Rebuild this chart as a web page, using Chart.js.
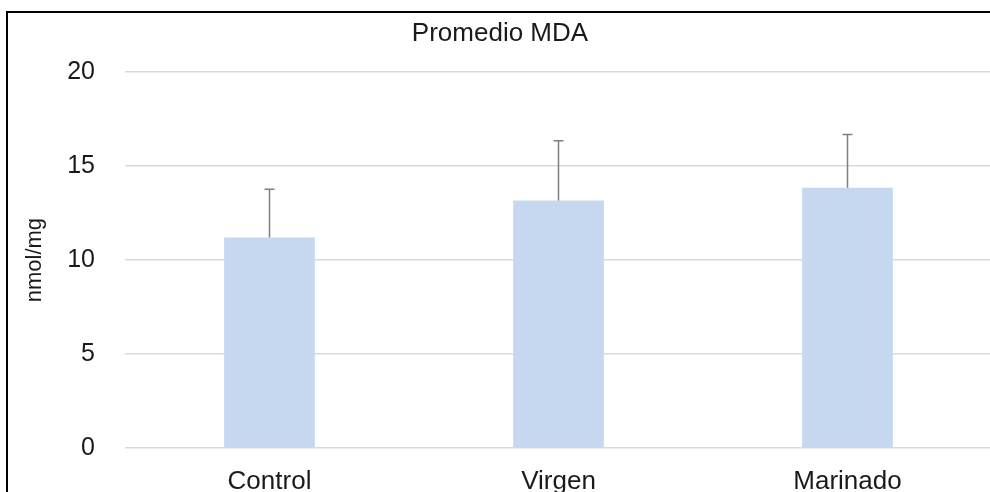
<!DOCTYPE html>
<html>
<head>
<meta charset="utf-8">
<script src="https://cdn.jsdelivr.net/npm/chart.js@4.4.1/dist/chart.umd.min.js"></script>
<style>
  html, body { margin: 0; padding: 0; background: #fff; overflow: hidden; width: 990px; height: 492px; }
  #frame { position: absolute; left: 6px; top: 11px; border-left: 2px solid #000; border-top: 2px solid #000; width: 1000px; height: 490px; }
  #wrap { position: relative; width: 1000px; height: 490px; }
</style>
</head>
<body>
<div id="frame"><div id="wrap"><canvas id="myChart"></canvas></div></div>
<script>
const categories = ['Control', 'Virgen', 'Marinado'];
const means = [11.2, 13.17, 13.85];
const errors = [2.57, 3.18, 2.84];
const yTicks = [0, 5, 10, 15, 20];

// draws the upper error bar above each bar
const errorBars = {
  id: 'errorBars',
  afterDatasetsDraw(chart) {
    const ctx = chart.ctx;
    const y = chart.scales.y;
    const meta = chart.getDatasetMeta(0);
    ctx.save();
    ctx.strokeStyle = '#7f7f7f';
    ctx.lineWidth = 1.5;
    meta.data.forEach((bar, i) => {
      const top = y.getPixelForValue(means[i] + errors[i]);
      const base = y.getPixelForValue(means[i]);
      ctx.beginPath();
      ctx.moveTo(bar.x, base);
      ctx.lineTo(bar.x, top);
      ctx.moveTo(bar.x - 5, top);
      ctx.lineTo(bar.x + 5, top);
      ctx.stroke();
    });
    ctx.restore();
  }
};

const ctx = document.getElementById('myChart').getContext('2d');
const myChart = new Chart(ctx, {
  type: 'bar',
  data: {
    labels: categories,
    datasets: [{
      label: 'Promedio MDA',
      data: means,
      backgroundColor: '#c6d8f0',
      borderWidth: 0,
      categoryPercentage: 1,
      barPercentage: 0.314
    }]
  },
  options: {
    responsive: true,
    maintainAspectRatio: false,
    animation: false,
    layout: { padding: { top: 0, right: 16, bottom: 0, left: 0 } },
    plugins: {
      legend: { display: false },
      tooltip: { enabled: false },
      title: {
        display: true,
        text: 'Promedio MDA',
        color: '#1a1a1a',
        font: { family: 'Liberation Sans, Arial, sans-serif', size: 26, weight: 'normal' },
        padding: { top: 5, bottom: 23 }
      }
    },
    scales: {
      x: {
        grid: { display: false, drawTicks: false },
        border: { display: false },
        ticks: {
          color: '#1a1a1a',
          padding: 18,
          font: { family: 'Liberation Sans, Arial, sans-serif', size: 26 }
        },
        afterFit(scale) { scale.height = 55; }
      },
      y: {
        min: 0,
        max: 20,
        afterBuildTicks(scale) { scale.ticks = yTicks.map(v => ({ value: v })); },
        grid: { color: '#d9d9d9', lineWidth: 1.5, drawTicks: false },
        border: { display: false },
        ticks: {
          color: '#1a1a1a',
          padding: 30,
          font: { family: 'Liberation Sans, Arial, sans-serif', size: 25 }
        },
        title: {
          display: true,
          text: 'nmol/mg',
          color: '#1a1a1a',
          padding: { top: 14, bottom: 0 },
          font: { family: 'Liberation Sans, Arial, sans-serif', size: 22 }
        },
        afterFit(scale) { scale.width = 117; }
      }
    }
  },
  plugins: [errorBars]
});
</script>
</body>
</html>
